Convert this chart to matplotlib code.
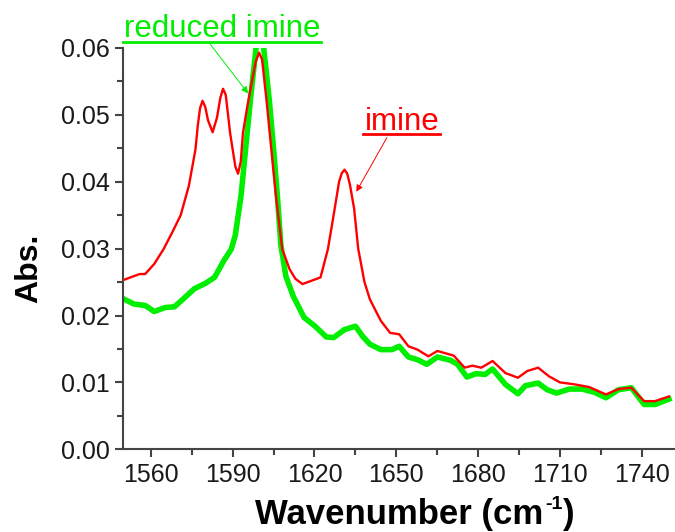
import matplotlib
matplotlib.use("Agg")
import matplotlib.pyplot as plt
from matplotlib.lines import Line2D

plt.rcParams['font.family'] = ['Liberation Sans', 'DejaVu Sans']

# imine spectrum (red)
imine_wn = [1550, 1552.6, 1556, 1558, 1561.3, 1564.7, 1568, 1571, 1574, 1576.4,
            1577.3, 1578.1, 1579, 1580, 1581, 1582.7, 1584.3, 1585.5, 1586.5, 1587.5,
            1589.1, 1591, 1592, 1593, 1593.8, 1595.5, 1597, 1598.5, 1599.7, 1600.8,
            1602.4, 1604.8, 1606, 1608.2, 1610.9, 1613, 1615.6, 1618.9, 1622.2, 1624.9,
            1627, 1629, 1630, 1631, 1632, 1633, 1634.5, 1636, 1638.3, 1640.3,
            1644.3, 1647.7, 1651, 1654.4, 1657.7, 1661.7, 1665, 1671, 1675, 1677.8,
            1681.1, 1685.2, 1689.9, 1694.5, 1697.9, 1701.9, 1705.9, 1709.9, 1715.3, 1720.6,
            1726.7, 1731.3, 1736, 1740.7, 1744.7, 1749.8]
imine_abs = [0.0253, 0.0257, 0.0262, 0.0262, 0.0277, 0.0299, 0.0325, 0.0350, 0.0394, 0.0448,
             0.0485, 0.0510, 0.0521, 0.0512, 0.0492, 0.0474, 0.0496, 0.0525, 0.0539, 0.0530,
             0.0473, 0.0423, 0.0412, 0.0430, 0.0473, 0.0515, 0.0548, 0.0580, 0.0593, 0.0583,
             0.0523, 0.0423, 0.0374, 0.0299, 0.0269, 0.0255, 0.0247, 0.0252, 0.0257, 0.0299,
             0.0350, 0.0400, 0.0413, 0.0418, 0.0412, 0.0395, 0.0360, 0.0300, 0.0250, 0.0224,
             0.0192, 0.0174, 0.0172, 0.0154, 0.0149, 0.0139, 0.0147, 0.0140, 0.0122, 0.0125,
             0.0122, 0.0132, 0.0114, 0.0107, 0.0117, 0.0122, 0.0109, 0.0100, 0.0097, 0.0093,
             0.0082, 0.0090, 0.0092, 0.0072, 0.0072, 0.0079]

# reduced imine spectrum (green)
reduced_wn = [1550, 1554, 1558, 1561.3, 1565.4, 1568.7, 1572, 1576, 1580, 1583.4,
              1586.8, 1589.5, 1591, 1593.1, 1594.8, 1596.6, 1598.6, 1600, 1601.4, 1603.5,
              1605, 1606.4, 1607.7, 1609.5, 1612.2, 1616.2, 1620.2, 1624.3, 1627, 1631,
              1635, 1637.6, 1640.3, 1644.3, 1648.4, 1651, 1654.4, 1657.7, 1661.1, 1665,
              1669.8, 1672.4, 1675.8, 1679.1, 1682.5, 1685.2, 1689.9, 1694.5, 1697.2, 1701.9,
              1705.2, 1708.6, 1713.3, 1718, 1722.6, 1726.7, 1731.3, 1736, 1740.7, 1744.7,
              1749.8]
reduced_abs = [0.0225, 0.0217, 0.0215, 0.0206, 0.0212, 0.0213, 0.0225, 0.0240, 0.0248, 0.0257,
               0.0282, 0.0299, 0.0320, 0.0379, 0.0450, 0.0525, 0.0600, 0.0650, 0.0600, 0.0520,
               0.0450, 0.0379, 0.0305, 0.0259, 0.0229, 0.0197, 0.0184, 0.0168, 0.0167, 0.0179,
               0.0184, 0.0169, 0.0157, 0.0149, 0.0149, 0.0154, 0.0138, 0.0134, 0.0127, 0.0138,
               0.0133, 0.0127, 0.0108, 0.0113, 0.0112, 0.0120, 0.0097, 0.0083, 0.0095, 0.0099,
               0.0089, 0.0084, 0.0090, 0.0090, 0.0085, 0.0077, 0.0089, 0.0092, 0.0067, 0.0067,
               0.0075]

x_ticks = [1560, 1590, 1620, 1650, 1680, 1710, 1740]
y_ticks = [0.00, 0.01, 0.02, 0.03, 0.04, 0.05, 0.06]

RED = '#ff0000'
GREEN = '#00ee00'
AXC = '#444444'

fig = plt.figure(figsize=(6.75, 5.32), dpi=100)
ax = fig.add_axes([0.1827, 0.1555, 0.8173, 0.7543])

ax.plot(imine_wn, imine_abs, color=RED, lw=1.7, zorder=3)
ax.plot(reduced_wn, reduced_abs, color=GREEN, lw=4.0, zorder=2,
        solid_joinstyle='round')

ax.set_xlim(1550, 1752)
ax.set_ylim(0, 0.06)
ax.set_xticks(x_ticks)
ax.set_yticks(y_ticks)
ax.set_yticklabels(['%.2f' % v for v in y_ticks])
ax.set_xticks([t + 15 for t in x_ticks[:-1]], minor=True)
ax.set_yticks([v + 0.005 for v in y_ticks[:-1]], minor=True)

for s in ['top', 'right']:
    ax.spines[s].set_visible(False)
for s in ['left', 'bottom']:
    ax.spines[s].set_color(AXC)
    ax.spines[s].set_linewidth(1.5)

ax.tick_params(which='major', direction='out', length=6, width=1.5, color=AXC,
               labelsize=18, labelcolor='#1a1a1a', pad=4)
ax.tick_params(which='minor', direction='out', length=4, width=1.5, color=AXC)

ax.set_ylabel('Abs.', fontsize=23, fontweight='bold')
ax.yaxis.set_label_coords(-0.143, 0.451)

# labels with leader arrows
t1 = ax.text(1550.1, 0.06164, 'reduced imine', color=GREEN, fontsize=22.5,
             ha='left', va='baseline', clip_on=False)
t2 = ax.text(1638.3, 0.0478, 'imine', color=RED, fontsize=22.5,
             ha='left', va='baseline', clip_on=False)

ax.annotate('', xy=(1595.7, 0.0532), xytext=(1581.2, 0.0609),
            arrowprops=dict(arrowstyle='-|>', color=GREEN, lw=0.7,
                            mutation_scale=10, shrinkA=0, shrinkB=0),
            annotation_clip=False)
ax.annotate('', xy=(1635.3, 0.0385), xytext=(1646.5, 0.0466),
            arrowprops=dict(arrowstyle='-|>', color=RED, lw=0.7,
                            mutation_scale=10, shrinkA=0, shrinkB=0),
            annotation_clip=False)

# x label drawn in pieces so the superscript is a plain hyphen
fig.canvas.draw()
r = fig.canvas.get_renderer()
inv = fig.transFigure.inverted()
base = 8.0 / 532
xa = fig.text(0, base, 'Wavenumber (cm', fontsize=25, fontweight='bold',
              ha='left', va='baseline')
xb = fig.text(0, base + 15.0 / 532, '-1', fontsize=14, fontweight='bold',
              ha='left', va='baseline')
xc = fig.text(0, base, ')', fontsize=25, fontweight='bold',
              ha='left', va='baseline')
wa = xa.get_window_extent(renderer=r).width
wb = xb.get_window_extent(renderer=r).width
wc = xc.get_window_extent(renderer=r).width
left = 415 - (wa + wb + wc + 2) / 2
xa.set_x(left / 675)
xb.set_x((left + wa + 2) / 675)
xc.set_x((left + wa + wb + 2) / 675)

# underline the two labels
fig.canvas.draw()
for t, c in [(t1, GREEN), (t2, RED)]:
    bb = t.get_window_extent(renderer=r)
    base_y = ax.transData.transform((0, t.get_position()[1]))[1]
    x0, y0 = inv.transform((bb.x0 - 1, base_y - 4.5))
    x1, _ = inv.transform((bb.x1 + 1, base_y - 4.5))
    fig.add_artist(Line2D([x0, x1], [y0, y0], color=c, lw=2.0,
                          transform=fig.transFigure))

fig.savefig('out.png', dpi=100)
